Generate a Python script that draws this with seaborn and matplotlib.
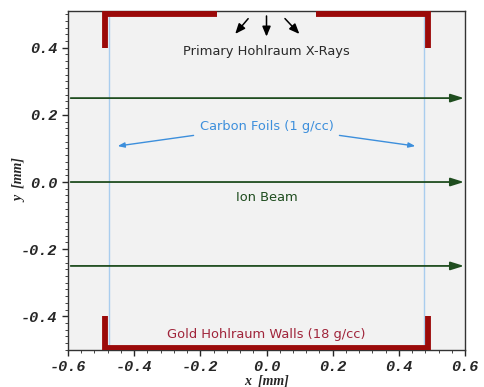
import numpy as np
import pandas as pd
import seaborn as sns
import matplotlib.pyplot as plt

# geometry (mm)
wall_x = 0.488
wall_gap = 0.15
wall_y_in = 0.40
wall_y_out = 0.50
foil_x = [-0.477, 0.477]
beam_y = [0.25, 0.0, -0.25]
beam_x = [-0.6, 0.605]
xray_start = [(-0.05, 0.493), (0.0, 0.503), (0.05, 0.493)]
xray_end = [(-0.10, 0.435), (0.0, 0.425), (0.105, 0.435)]

# wall outlines as polylines
walls = pd.DataFrame({
    "x": [-wall_gap, -wall_x, -wall_x,
          wall_gap, wall_x, wall_x,
          -wall_x, -wall_x, wall_x, wall_x],
    "y": [wall_y_out, wall_y_out, wall_y_in,
          wall_y_out, wall_y_out, wall_y_in,
          -wall_y_in, -wall_y_out + 0.005, -wall_y_out + 0.005, -wall_y_in],
    "part": ["tl"] * 3 + ["tr"] * 3 + ["bot"] * 4,
})

sns.set_style("ticks")
fig = plt.figure(figsize=(4.85, 3.87), dpi=100)
ax = fig.add_axes([0.14, 0.096, 0.819, 0.876])
ax.set_facecolor("#f2f2f2")

red = "#9b0a0a"
green = "#1f4d1f"
blue = "#3d8fdc"

# carbon foils
for fx in foil_x:
    ax.axvline(fx, color="#a9cdee", lw=1.0, zorder=1)

# ion beams
for by in beam_y:
    ax.annotate("", xy=(beam_x[1], by), xytext=(beam_x[0], by),
                arrowprops=dict(arrowstyle="-|>,head_length=0.8,head_width=0.25",
                                color=green, lw=1.3), zorder=3,
                annotation_clip=False)

# gold walls
sns.lineplot(data=walls, x="x", y="y", units="part", estimator=None, sort=False,
             color=red, lw=4.2, ax=ax, zorder=4,
             solid_capstyle="butt", solid_joinstyle="miter")

# x-ray arrows
for (x0, y0), (x1, y1) in zip(xray_start, xray_end):
    ax.annotate("", xy=(x1, y1), xytext=(x0, y0),
                arrowprops=dict(arrowstyle="-|>,head_length=0.6,head_width=0.25",
                                color="black", lw=1.1), zorder=5)

ax.text(0.0, 0.39, "Primary Hohlraum X-Rays", ha="center", va="center",
        fontsize=9.4, color="#2a2a2a")
ax.text(0.0, 0.166, "Carbon Foils (1 g/cc)", ha="center", va="center",
        fontsize=9.4, color=blue)
for fx in foil_x:
    ax.annotate("", xy=(fx * 0.96, 0.106), xytext=(np.sign(fx) * 0.212, 0.14),
                arrowprops=dict(arrowstyle="-|>,head_length=0.4,head_width=0.15",
                                color=blue, lw=1.0))
ax.text(0.0, -0.045, "Ion Beam", ha="center", va="center",
        fontsize=9.4, color=green)
ax.text(0.0, -0.455, "Gold Hohlraum Walls (18 g/cc)", ha="center", va="center",
        fontsize=9.4, color="#a0243a")

ax.set_xlim(-0.6, 0.6)
ax.set_ylim(-0.5, 0.51)
ax.set_xticks([-0.6, -0.4, -0.2, 0.0, 0.2, 0.4, 0.6])
ax.set_yticks([-0.4, -0.2, 0.0, 0.2, 0.4])
ax.set_xticklabels(["-0.6", "-0.4", "-0.2", "0.0", "0.2", "0.4", "0.6"])
ax.set_yticklabels(["-0.4", "-0.2", "0.0", "0.2", "0.4"])
ax.set_xticks(np.arange(-0.6, 0.601, 0.04), minor=True)
ax.set_yticks(np.arange(-0.5, 0.511, 0.02), minor=True)
ax.tick_params(which="major", direction="out", length=4, width=1)
ax.tick_params(which="minor", direction="out", length=2, width=0.6)
for lab in ax.get_xticklabels() + ax.get_yticklabels():
    lab.set_fontfamily("Liberation Mono")
    lab.set_fontweight("bold")
    lab.set_fontstyle("italic")
    lab.set_fontsize(11)

ax.set_xlabel("x  [mm]", family="Liberation Serif", weight="bold", style="italic",
              fontsize=10, labelpad=0)
ax.set_ylabel("y  [mm]", family="Liberation Serif", weight="bold", style="italic",
              fontsize=10)
ax.yaxis.set_label_coords(-0.105, 0.5)
for s in ax.spines.values():
    s.set_linewidth(1.0)
    s.set_color("#333333")

fig.savefig("out.png", dpi=100)
